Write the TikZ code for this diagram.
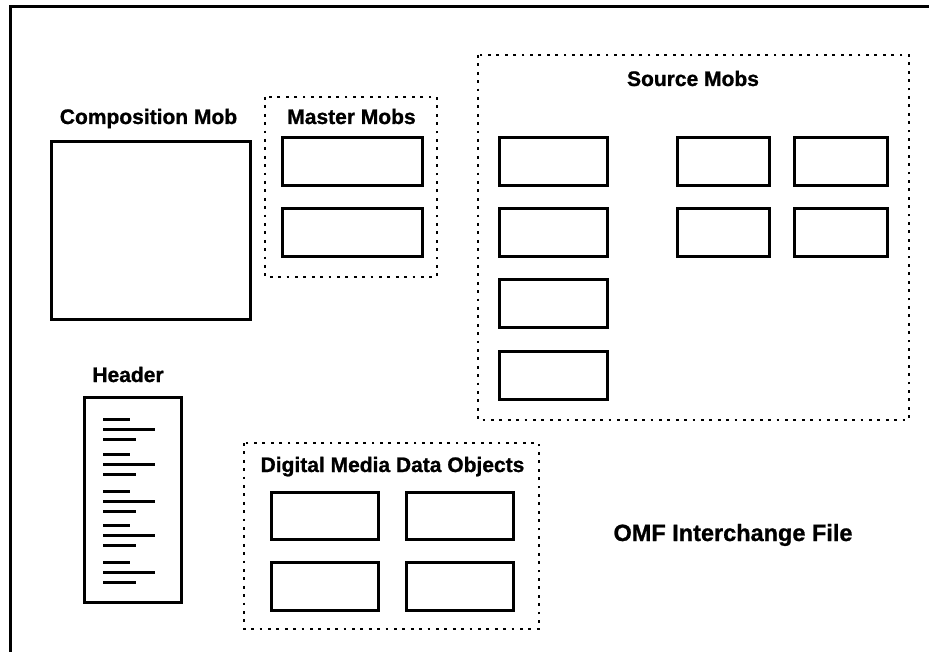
\documentclass[tikz,border=0pt]{standalone}
\usepackage{fontspec}
\setmainfont{Liberation Sans}[BoldFeatures={FakeBold=1}]
\begin{document}
\begin{tikzpicture}[x=1pt,y=-1pt,
  mobbox/.style={draw, line width=3pt, inner sep=0pt, minimum width=#1},
  mobbox/.default=108pt,
  groupbox/.style={draw, line width=2.8pt, dash pattern=on 2.8pt off 5.6pt},
  title/.style={anchor=base, inner sep=0pt, font=\fontsize{21}{25}\selectfont\bfseries},
  hline/.style={line width=3pt}]
\useasboundingbox (0,0) rectangle (929,652);
\fill[white] (0,0) rectangle (929,652);

% outer file frame (runs past the page on the right and bottom)
\draw[line width=3pt] (10,680) -- (10,7) -- (950,7);

% composition mob
\node[title] (compT) at (148.5,124) {Composition Mob};
\node[mobbox=199pt, minimum height=178pt] (comp) at (150.5,231) {};

% master mobs
\draw[groupbox] (265,97) rectangle (437,277);
\node[title] (mastT) at (351.5,124) {Master Mobs};
\node[mobbox=140pt, minimum height=48pt] (m1) at (352,162) {};
\node[mobbox=140pt, minimum height=48pt] (m2) at (352,233) {};

% source mobs
\draw[groupbox] (478,55) rectangle (909,420);
\node[title] (srcT) at (693,86) {Source Mobs};
\foreach \n/\cy in {1/162,2/233,3/303.5,4/375}
  \node[mobbox=108pt, minimum height=48pt] (s\n) at (553,\cy) {};
\foreach \n/\cy in {5/162,6/233}
  \node[mobbox=92pt, minimum height=48pt] (s\n) at (723,\cy) {};
\foreach \n/\cy in {7/162,8/233}
  \node[mobbox=93pt, minimum height=48pt] (s\n) at (840.5,\cy) {};

% header
\node[title] (headT) at (128,382) {Header};
\node[draw, line width=3pt, inner sep=0pt, minimum width=97pt, minimum height=205pt] (head) at (132.5,499.5) {};
\foreach \y in {419,454,491,525,562}{
  \draw[hline] (103,\y) -- (130,\y);
  \draw[hline] (103,\y+10) -- (155,\y+10);
  \draw[hline] (103,\y+20) -- (136,\y+20);
}

% digital media data objects
\draw[groupbox] (244,443) rectangle (539,629);
\node[title] (dataT) at (392.5,472) {Digital Media Data Objects};
\node[mobbox=107pt, minimum height=47pt] (d1) at (324.5,515.5) {};
\node[mobbox=107pt, minimum height=47pt] (d2) at (459.5,515.5) {};
\node[mobbox=107pt, minimum height=48pt] (d3) at (324.5,586) {};
\node[mobbox=107pt, minimum height=48pt] (d4) at (459.5,586) {};

% file label
\node[anchor=base, inner sep=0pt, font=\fontsize{23.5}{28}\selectfont\bfseries] (omf) at (733,541) {OMF Interchange File};
\end{tikzpicture}
\end{document}
